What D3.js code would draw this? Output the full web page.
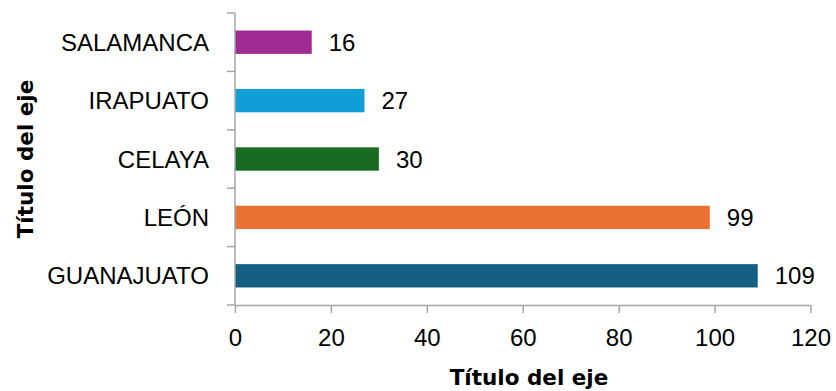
<!DOCTYPE html>
<html>
<head>
<meta charset="utf-8">
<script src="https://cdn.jsdelivr.net/npm/d3@7"></script>
<style>
  html, body { margin: 0; padding: 0; background: #fff; }
  svg { display: block; font-family: "Liberation Sans", Arial, sans-serif; }
</style>
</head>
<body>
<svg id="chart" width="836" height="391"></svg>
<script>
// Category order from bottom to top, with matching values and colours
const categories = ["GUANAJUATO", "LEÓN", "CELAYA", "IRAPUATO", "SALAMANCA"];
const values = [109, 99, 30, 27, 16];
const colors = ["#156082", "#e97132", "#196b24", "#0f9ed5", "#a02b93"];
const xTicks = [0, 20, 40, 60, 80, 100, 120];
const xTitle = "Título del eje";
const yTitle = "Título del eje";

const svg = d3.select("#chart");
const plotLeft = 235, plotRight = 810.5, plotTop = 13, plotBottom = 305;
const labelSize = 24;

const x = d3.scaleLinear().domain([0, 120]).range([plotLeft, plotRight]);
const y = d3.scaleBand().domain(categories).range([plotBottom, plotTop]).paddingInner(0.6).paddingOuter(0.3);

const axisColor = "#a6a6a6";

// Bars
svg.append("g").selectAll("rect")
  .data(values)
  .join("rect")
  .attr("x", x(0))
  .attr("y", (d, i) => y(categories[i]))
  .attr("width", d => x(d) - x(0))
  .attr("height", y.bandwidth())
  .attr("fill", (d, i) => colors[i]);

// Value labels
svg.append("g").selectAll("text")
  .data(values)
  .join("text")
  .attr("x", d => x(d) + 17)
  .attr("y", (d, i) => y(categories[i]) + y.bandwidth() / 2)
  .attr("dy", "0.36em")
  .attr("font-size", labelSize)
  .attr("fill", "#000")
  .text(d => d);

// Bottom axis
const xAxis = svg.append("g")
  .attr("transform", `translate(0,${plotBottom})`)
  .call(d3.axisBottom(x).tickValues(xTicks).tickSize(8).tickSizeOuter(0).tickPadding(16));
xAxis.select(".domain").attr("stroke", axisColor).attr("stroke-width", 1.5);
xAxis.selectAll(".tick line").attr("stroke", axisColor).attr("stroke-width", 1.5);
xAxis.selectAll(".tick text").attr("font-size", labelSize).attr("fill", "#000")
  .attr("font-family", "Liberation Sans, Arial, sans-serif");

// Left axis: ticks sit on band boundaries
const yBounds = d3.range(categories.length + 1).map(i => plotBottom - i * (plotBottom - plotTop) / categories.length);
const yAxisG = svg.append("g");
yAxisG.append("line")
  .attr("x1", plotLeft).attr("x2", plotLeft).attr("y1", plotTop).attr("y2", plotBottom)
  .attr("stroke", axisColor).attr("stroke-width", 1.5);
yAxisG.selectAll("line.tk")
  .data(yBounds)
  .join("line")
  .attr("class", "tk")
  .attr("x1", plotLeft - 8).attr("x2", plotLeft)
  .attr("y1", d => d).attr("y2", d => d)
  .attr("stroke", axisColor).attr("stroke-width", 1.5);
yAxisG.selectAll("text")
  .data(categories)
  .join("text")
  .attr("x", plotLeft - 26)
  .attr("y", d => y(d) + y.bandwidth() / 2)
  .attr("dy", "0.36em")
  .attr("text-anchor", "end")
  .attr("font-size", labelSize)
  .attr("fill", "#000")
  .text(d => d);

// Axis titles
svg.append("text")
  .attr("x", 529).attr("y", 385)
  .attr("text-anchor", "middle")
  .attr("font-size", 21.5).attr("font-weight", "bold")
  .attr("font-family", "DejaVu Sans, sans-serif")
  .attr("fill", "#000")
  .text(xTitle);

svg.append("text")
  .attr("transform", "translate(33,159) rotate(-90)")
  .attr("text-anchor", "middle")
  .attr("font-size", 21.5).attr("font-weight", "bold")
  .attr("font-family", "DejaVu Sans, sans-serif")
  .attr("fill", "#000")
  .text(yTitle);
</script>
</body>
</html>
